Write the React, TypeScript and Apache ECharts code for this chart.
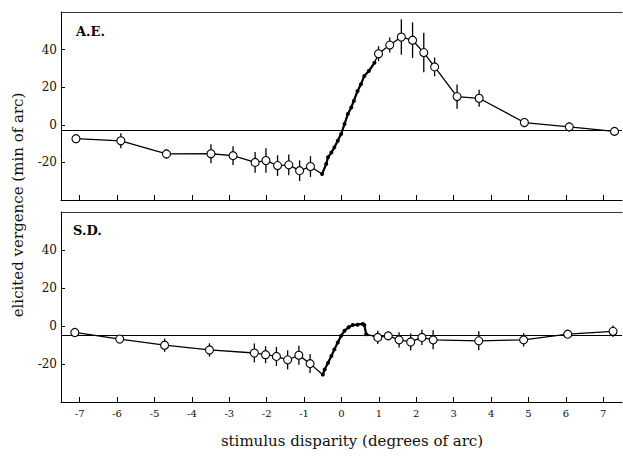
import React, { useEffect, useRef } from "react";
import * as echarts from "echarts";

// Disparity tick values shared by both panels
const xTicks = [-7, -6, -5, -4, -3, -2, -1, 0, 1, 2, 3, 4, 5, 6, 7];
const yTicks = [-20, 0, 20, 40];

// Subject A.E. — open symbols with error bars (half-length)
const aeOpenX = [-7.1, -5.9, -4.68, -3.49, -2.9, -2.31, -2.02, -1.71, -1.41, -1.12, -0.83, 0.99, 1.29, 1.6, 1.9, 2.2, 2.49, 3.09, 3.68, 4.89, 6.09, 7.3];
const aeOpenY = [-7.4, -8.5, -15.5, -15.4, -16.4, -20, -19, -21.7, -21.3, -24.4, -22.2, 37.8, 42.4, 46.7, 45, 38.4, 30.8, 15, 14.1, 1.2, -1.1, -3.5];
const aeOpenErr = [1.5, 4, 2.5, 5, 5, 5.5, 6.5, 5.5, 5.5, 5.5, 5.5, 4, 4, 9.5, 9.5, 10.5, 5, 6.5, 4.5, 2.5, 2.5, 1.5];
// Subject A.E. — densely sampled filled symbols
const aeFilledX = [-0.52, -0.41, -0.36, -0.27, -0.19, -0.1, -0.01, 0.08, 0.17, 0.26, 0.33, 0.43, 0.52, 0.61, 0.73, 0.88];
const aeFilledY = [-26.2, -20.9, -17.3, -14.7, -12, -8.5, -4.9, 0.4, 5.7, 9.2, 12.7, 18, 21.6, 26, 28.6, 33];
const aeBaseline = -3;

// Subject S.D.
const sdOpenX = [-7.13, -5.93, -4.73, -3.53, -2.33, -2.03, -1.74, -1.44, -1.14, -0.84, 0.97, 1.25, 1.54, 1.85, 2.15, 2.45, 3.67, 4.87, 6.05, 7.26];
const sdOpenY = [-3.4, -6.9, -10.1, -12.6, -14.2, -15.1, -16, -17.8, -15.4, -19.8, -6, -5.2, -7.3, -8.4, -6, -7.3, -7.8, -7.3, -4.3, -2.8];
const sdOpenErr = [2, 2, 3.5, 3.5, 5, 4.5, 5, 5, 5, 5, 3.5, 2, 4, 4.5, 4, 5, 5, 3.5, 1.5, 3];
const sdFilledX = [-0.5, -0.45, -0.36, -0.27, -0.19, -0.1, -0.01, 0.08, 0.19, 0.3, 0.43, 0.57, 0.61, 0.66];
const sdFilledY = [-25.6, -22.9, -19.4, -15.8, -12.3, -8.7, -5.2, -2.5, -0.7, 0.5, 0.7, 1.1, 0.5, -4.3];
const sdBaseline = -5;

const FONT = "DejaVu Serif";

function zipPts(xs: number[], ys: number[]) {
  return xs.map((x, i) => [x, ys[i]]);
}

function panelSeries(
  idx: number,
  openX: number[],
  openY: number[],
  openErr: number[],
  filledX: number[],
  filledY: number[],
  baseline: number
) {
  const open = zipPts(openX, openY);
  const filled = zipPts(filledX, filledY);
  const all = [...open, ...filled].sort((a, b) => a[0] - b[0]);
  const bars = openX.map((x, i) => [x, openY[i] - openErr[i], openY[i] + openErr[i]]);
  const axes = { xAxisIndex: idx * 2, yAxisIndex: idx };
  return [
    {
      type: "custom",
      ...axes,
      z: 2,
      encode: { x: 0, y: [1, 2] },
      data: bars,
      renderItem: (_p: any, api: any) => {
        const a = api.coord([api.value(0), api.value(1)]);
        const b = api.coord([api.value(0), api.value(2)]);
        return {
          type: "line",
          shape: { x1: a[0], y1: a[1], x2: b[0], y2: b[1] },
          style: { stroke: "#000", lineWidth: 1.3 },
        };
      },
    },
    {
      type: "line",
      ...axes,
      z: 3,
      data: all,
      showSymbol: false,
      lineStyle: { color: "#000", width: 1.3 },
      markLine: {
        silent: true,
        symbol: "none",
        label: { show: false },
        lineStyle: { color: "#000", width: 1, type: "solid" },
        data: [{ yAxis: baseline }],
      },
    },
    {
      type: "line",
      ...axes,
      z: 4,
      data: filled,
      symbol: "circle",
      symbolSize: 4,
      itemStyle: { color: "#000", opacity: 1 },
      lineStyle: { color: "#000", width: 2.2 },
    },
    {
      type: "scatter",
      ...axes,
      z: 5,
      data: open,
      symbol: "circle",
      symbolSize: 8,
      itemStyle: { color: "#ffffff", borderColor: "#000", borderWidth: 1.1, opacity: 1 },
    },
  ];
}

function bottomAxis(gridIndex: number, labels: boolean) {
  return {
    type: "value",
    gridIndex,
    min: -7.5,
    max: 7.5,
    position: "bottom",
    axisLine: { show: true, onZero: false, lineStyle: { color: "#000", width: 1 } },
    axisTick: { show: true, inside: true, length: 5, customValues: xTicks, lineStyle: { color: "#000" } },
    axisLabel: {
      show: labels,
      customValues: xTicks,
      fontFamily: FONT,
      fontSize: 10,
      color: "#111",
      margin: 6,
    },
    splitLine: { show: false },
  };
}

function topAxis(gridIndex: number) {
  return {
    type: "value",
    gridIndex,
    min: -7.5,
    max: 7.5,
    position: "top",
    axisLine: { show: true, onZero: false, lineStyle: { color: "#333", width: 1 } },
    axisTick: { show: false },
    axisLabel: { show: false },
    splitLine: { show: false },
  };
}

function leftAxis(gridIndex: number) {
  return {
    type: "value",
    gridIndex,
    min: -40,
    max: 60,
    interval: 20,
    axisLine: { show: true, onZero: false, lineStyle: { color: "#000", width: 1 } },
    axisTick: { show: true, inside: true, length: 4, customValues: yTicks, lineStyle: { color: "#000" } },
    axisLabel: {
      customValues: yTicks,
      fontFamily: FONT,
      fontSize: 12,
      color: "#111",
      margin: 4,
    },
    splitLine: { show: false },
  };
}

export default function App() {
  const ref = useRef<HTMLDivElement>(null);

  useEffect(() => {
    if (!ref.current) return;
    const chart = echarts.init(ref.current, undefined, { renderer: "svg" });
    chart.setOption({
      animation: false,
      backgroundColor: "#fff",
      textStyle: { fontFamily: FONT },
      grid: [
        { left: 61, right: 1, top: 12, height: 188 },
        { left: 61, right: 1, top: 212, height: 190 },
      ],
      xAxis: [bottomAxis(0, false), topAxis(0), bottomAxis(1, true), topAxis(1)],
      yAxis: [leftAxis(0), leftAxis(1)],
      series: [
        ...panelSeries(0, aeOpenX, aeOpenY, aeOpenErr, aeFilledX, aeFilledY, aeBaseline),
        ...panelSeries(1, sdOpenX, sdOpenY, sdOpenErr, sdFilledX, sdFilledY, sdBaseline),
      ],
      graphic: [
        {
          type: "text",
          left: 76,
          top: 25,
          style: { text: "A.E.", fontFamily: FONT, fontWeight: "bold", fontSize: 13, fill: "#000" },
        },
        {
          type: "text",
          left: 73,
          top: 224,
          style: { text: "S.D.", fontFamily: FONT, fontWeight: "bold", fontSize: 13, fill: "#000" },
        },
        {
          type: "text",
          x: 18,
          y: 205,
          rotation: Math.PI / 2,
          style: {
            text: "elicited vergence (min of arc)",
            fontFamily: FONT,
            fontSize: 15,
            fill: "#111",
            textAlign: "center",
            textVerticalAlign: "middle",
          },
        },
        {
          type: "text",
          x: 352,
          y: 441,
          style: {
            text: "stimulus disparity (degrees of arc)",
            fontFamily: FONT,
            fontSize: 15,
            fill: "#111",
            textAlign: "center",
            textVerticalAlign: "middle",
          },
        },
      ],
    });
    return () => chart.dispose();
  }, []);

  return <div ref={ref} style={{ width: 623, height: 457, position: "absolute", left: 0, top: 0 }} />;
}
